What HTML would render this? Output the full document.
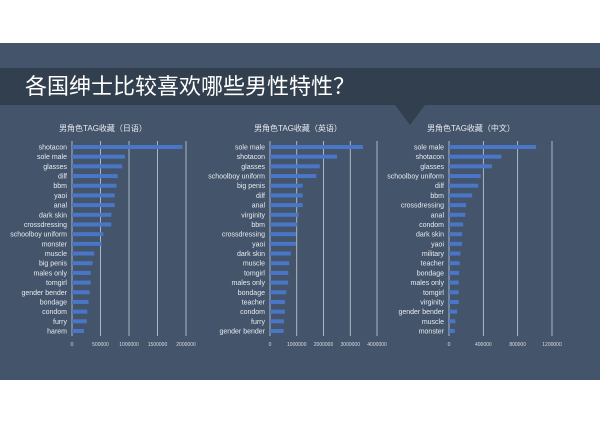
<!DOCTYPE html>
<html><head><meta charset="utf-8">
<style>
html,body{margin:0;padding:0;background:#fff;}
#wrap{position:relative;width:600px;height:424px;overflow:hidden;font-family:"Liberation Sans","Noto Sans CJK SC",sans-serif;}
</style></head>
<body>
<div id="wrap">
<svg id="svg" width="600" height="424" xmlns="http://www.w3.org/2000/svg">
  <rect x="0" y="43" width="600" height="337" fill="#44546a"/>
  <rect x="0" y="68" width="600" height="37" fill="#323f4f"/>
  <polygon points="395,105 425,105 410,125" fill="#323f4f"/>
  <text x="25" y="94" font-size="22" fill="#ffffff" font-family="Liberation Sans, Noto Sans CJK SC, sans-serif">各国绅士比较喜欢哪些男性特性？</text>
</svg>
</div>
<script>
const jpCategories=["shotacon","sole male","glasses","dilf","bbm","yaoi","anal","dark skin","crossdressing","schoolboy uniform","monster","muscle","big penis","males only","tomgirl","gender bender","bondage","condom","furry","harem"];
const jpValues=[1940000,930000,880000,800000,780000,750000,750000,690000,690000,550000,520000,390000,360000,330000,330000,310000,290000,270000,260000,210000];
const jpTicks=[0,500000,1000000,1500000,2000000];
const enCategories=["sole male","shotacon","glasses","schoolboy uniform","big penis","dilf","anal","virginity","bbm","crossdressing","yaoi","dark skin","muscle","tomgirl","males only","bondage","teacher","condom","furry","gender bender"];
const enValues=[3480000,2510000,1860000,1730000,1220000,1220000,1220000,1070000,1020000,990000,970000,780000,720000,680000,680000,610000,560000,560000,520000,510000];
const enTicks=[0,1000000,2000000,3000000,4000000];
const cnCategories=["sole male","shotacon","glasses","schoolboy uniform","dilf","bbm","crossdressing","anal","condom","dark skin","yaoi","military","teacher","bondage","males only","tomgirl","virginity","gender bender","muscle","monster"];
const cnValues=[1015000,610000,500000,370000,340000,270000,200000,190000,165000,153000,153000,133000,125000,118000,114000,114000,114000,94000,75000,67000];
const cnTicks=[0,400000,800000,1200000];

const svg=document.getElementById('svg');
const NS='http://www.w3.org/2000/svg';
function mk(tag,attrs,parent){const e=document.createElementNS(NS,tag);for(const k in attrs)e.setAttribute(k,attrs[k]);(parent||svg).appendChild(e);return e;}

function chart(id,title,titleX,x0,x1,cats,vals,ticks){
  const g=mk('g',{});
  
  
  const maxT=ticks[ticks.length-1];
  const xs=v=>x0+(v/maxT)*(x1-x0);
  const yTop=147,yBot=331,step=(yBot-yTop)/(cats.length-1);
  const ys=i=>yTop+i*step;
  const t=mk('text',{x:titleX,y:131,'font-size':8,fill:'#e8ecf2','text-anchor':'middle'},g);
  t.textContent=title;
  
  
  ticks.forEach((tv,i)=>{
    if(i>0){
      const l=mk('line',{x1:xs(tv),x2:xs(tv),y1:141,y2:336,stroke:'#c8d0dc','stroke-width':0.8},g);
      
      
    }
    const tt=mk('text',{x:xs(tv),y:346,'font-size':5,fill:'#d8dee8','text-anchor':'middle'},g);
    tt.textContent=tv;
    
    
  });
  const ax=mk('line',{x1:x0,x2:x0,y1:141,y2:336,stroke:'#c8d0dc','stroke-width':0.8},g);
  
  
  cats.forEach((c,i)=>{
    const r=mk('rect',{x:x0,y:ys(i)-2,width:xs(vals[i])-x0,height:4,fill:'#4a76c8'},g);
    
    
    const lb=mk('text',{x:x0-5,y:ys(i)+2.5,'font-size':7,fill:'#e8ecf2','text-anchor':'end'},g);
    lb.textContent=c;
    
    
  });
}
chart('chart-japanese','男角色TAG收藏（日语）',103,72,186,jpCategories,jpValues,jpTicks);
chart('chart-english','男角色TAG收藏（英语）',298,270,377,enCategories,enValues,enTicks);
chart('chart-chinese','男角色TAG收藏（中文）',471,449,552,cnCategories,cnValues,cnTicks);
</script>
</body></html>
